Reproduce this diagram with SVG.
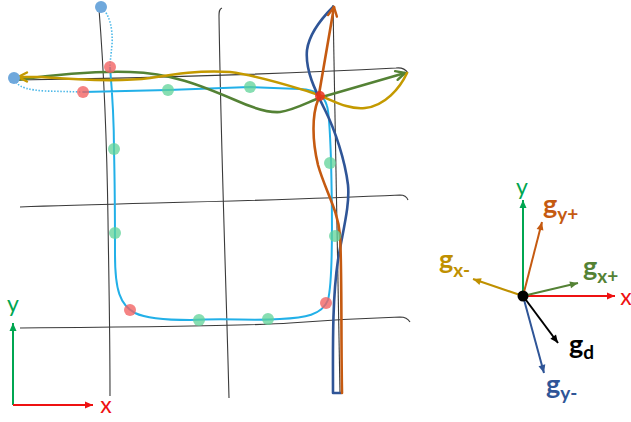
<svg xmlns="http://www.w3.org/2000/svg" width="631" height="422" viewBox="0 0 631 422">
<style>
.grid{fill:none;stroke:#3a3a3a;stroke-width:1.1}
.lb{fill:none;stroke:#22b0e8;stroke-width:2}
.dot{fill:none;stroke:#4cb8e8;stroke-width:1.6;stroke-dasharray:1.5 1.6}
.cv{fill:none;stroke-width:2.6;stroke-linecap:round;stroke-linejoin:round}
.gd{fill:#5fd398;fill-opacity:0.75}
.rd{fill:#f26464;fill-opacity:0.8}
.bd{fill:#6fa8dc}
.ax{fill:none;stroke-width:2}
.lbl{font-family:Lato,"Liberation Sans",sans-serif;font-size:23px}
.g{font-family:Lato,"Liberation Sans",sans-serif;font-weight:bold;font-size:27px}
.s{font-size:19px}
</style>
<defs>
<marker id="oOr" viewBox="-12 -7 14 14" markerWidth="14" markerHeight="14" refX="0" refY="0" orient="auto" markerUnits="userSpaceOnUse"><path d="M-9,-4.5 L0,0 L-9,4.5" fill="none" stroke="#c55a11" stroke-width="2.4" stroke-linecap="round" stroke-linejoin="round"/></marker>
<marker id="oGr" viewBox="-12 -7 14 14" markerWidth="14" markerHeight="14" refX="0" refY="0" orient="auto" markerUnits="userSpaceOnUse"><path d="M-9,-4.5 L0,0 L-9,4.5" fill="none" stroke="#548235" stroke-width="2.4" stroke-linecap="round" stroke-linejoin="round"/></marker>
<marker id="oGo" viewBox="-12 -7 14 14" markerWidth="14" markerHeight="14" refX="0" refY="0" orient="auto" markerUnits="userSpaceOnUse"><path d="M-9,-4.5 L0,0 L-9,4.5" fill="none" stroke="#c49a00" stroke-width="2.4" stroke-linecap="round" stroke-linejoin="round"/></marker>
<marker id="fG" viewBox="-10 -5 12 10" markerWidth="12" markerHeight="10" refX="0" refY="0" orient="auto" markerUnits="userSpaceOnUse"><path d="M0,0 L-8,-3.5 L-8,3.5 Z" fill="#00a651"/></marker>
<marker id="fR" viewBox="-10 -5 12 10" markerWidth="12" markerHeight="10" refX="0" refY="0" orient="auto" markerUnits="userSpaceOnUse"><path d="M0,0 L-8,-3.5 L-8,3.5 Z" fill="#ee1111"/></marker>
<marker id="fO" viewBox="-10 -5 12 10" markerWidth="12" markerHeight="10" refX="0" refY="0" orient="auto" markerUnits="userSpaceOnUse"><path d="M0,0 L-8,-3.5 L-8,3.5 Z" fill="#c55a11"/></marker>
<marker id="fDG" viewBox="-10 -5 12 10" markerWidth="12" markerHeight="10" refX="0" refY="0" orient="auto" markerUnits="userSpaceOnUse"><path d="M0,0 L-8,-3.5 L-8,3.5 Z" fill="#548235"/></marker>
<marker id="fY" viewBox="-10 -5 12 10" markerWidth="12" markerHeight="10" refX="0" refY="0" orient="auto" markerUnits="userSpaceOnUse"><path d="M0,0 L-8,-3.5 L-8,3.5 Z" fill="#bf9000"/></marker>
<marker id="fK" viewBox="-10 -5 12 10" markerWidth="12" markerHeight="10" refX="0" refY="0" orient="auto" markerUnits="userSpaceOnUse"><path d="M0,0 L-8,-3.5 L-8,3.5 Z" fill="#000"/></marker>
<marker id="fB" viewBox="-10 -5 12 10" markerWidth="12" markerHeight="10" refX="0" refY="0" orient="auto" markerUnits="userSpaceOnUse"><path d="M0,0 L-8,-3.5 L-8,3.5 Z" fill="#2f5597"/></marker>
</defs>
<rect width="631" height="422" fill="#fff"/>

<g id="grid">
<path class="grid" d="M99,9 C103,60 107,150 108,220 S110,330 110,396"/>
<path class="grid" d="M222,8 C219,9 219,12 219,16 C221,150 226,280 229,398"/>
<path class="grid" d="M333,5 L340,393"/>
<path class="grid" d="M17,80 C150,78 300,73 396,68 Q404,67 408,73"/>
<path class="grid" d="M20,207 C120,203 250,202 400,195 Q406,195 408,200"/>
<path class="grid" d="M20,328 C150,327 250,326 290,323 C330,320 370,318 400,317 Q407,317 410,322"/>
</g>

<g id="connectors">
<path class="dot" d="M102,8 C110,15 113,30 112,45 C111,55 110,62 110,67"/>
<path class="dot" d="M16,82 C20,88 30,90 45,91 L83,92"/>
<path class="lb" d="M110,67 C112,90 114,130 114,150 C115,190 115,230 115,255 C115,290 120,305 135,313 C145,318 160,320 190,320 C230,318 250,321 280,319 C305,318 322,315 328,300 C333,280 332,200 331,160 C330,130 329,112 327,106 C324,96 318,90 300,89 L250,87 L168,90 L83,92"/>
<path class="cv" stroke="#548235" marker-end="url(#oGr)" d="M17,80 C60,74 100,71 130,72 C170,73 200,85 235,100 C255,109 268,113 280,112 C295,110 310,101 322,97 L405,73"/>
<path class="cv" stroke="#c49a00" marker-end="url(#oGo)" d="M407,73 C400,88 385,106 365,108 C345,110 330,98 310,92 C290,86 260,76 230,72 C200,70 175,74 150,78 C120,82 80,80 40,77 L18,77"/>
<path class="cv" stroke="#2f5597" d="M341,393 L333,393 C333,350 332,300 338,260 C343,230 350,205 348,185 C345,160 335,130 325,110 C315,90 305,70 307,50 C309,35 320,20 333,7"/>
<path class="cv" stroke="#c55a11" marker-end="url(#oOr)" d="M342,393 C341,340 342,270 340,235 C338,210 325,190 318,165 C312,140 312,115 318,100 L334,7"/>
</g>

<g id="points">
<circle class="bd" cx="101" cy="7" r="6"/>
<circle class="bd" cx="14" cy="78" r="6"/>
<circle class="rd" cx="110" cy="67" r="6"/>
<circle class="rd" cx="83" cy="92" r="6"/>
<circle class="rd" cx="130" cy="310" r="6"/>
<circle class="rd" cx="326" cy="303" r="6"/>
<circle cx="320" cy="96" r="5" fill="#e8301c" fill-opacity="0.85"/>
<circle class="gd" cx="168" cy="90" r="6"/>
<circle class="gd" cx="250" cy="87" r="6"/>
<circle class="gd" cx="114" cy="149" r="6"/>
<circle class="gd" cx="115" cy="233" r="6"/>
<circle class="gd" cx="199" cy="320" r="6"/>
<circle class="gd" cx="268" cy="319" r="6"/>
<circle class="gd" cx="330" cy="163" r="6"/>
<circle class="gd" cx="335" cy="236" r="6"/>
</g>

<g id="axes-left">
<path class="ax" stroke="#00a651" marker-end="url(#fG)" d="M13,405 L13,323"/>
<path class="ax" stroke="#ee1111" marker-end="url(#fR)" d="M13,405 L93,405"/>
<text class="lbl" x="13" y="312" text-anchor="middle" fill="#00a651">y</text>
<text class="lbl" x="106" y="413" text-anchor="middle" fill="#ee1111">x</text>
</g>

<g id="vectors">
<g id="axis-y"><path class="ax" stroke="#00a651" marker-end="url(#fG)" d="M523,296 L523,200"/><text class="lbl" x="522" y="195" text-anchor="middle" fill="#00a651">y</text></g>
<g id="axis-x"><path class="ax" stroke="#ee1111" marker-end="url(#fR)" d="M523,296 L615,296"/><text class="lbl" x="626" y="305" text-anchor="middle" fill="#ee1111">x</text></g>
<g id="g-yp"><path class="ax" stroke="#c55a11" marker-end="url(#fO)" d="M523,296 L542,222"/><text class="g" x="543" y="214" fill="#c55a11">g<tspan class="s" dy="7">y+</tspan></text></g>
<g id="g-xp"><path class="ax" stroke="#548235" marker-end="url(#fDG)" d="M523,296 L578,283"/><text class="g" x="583" y="276" fill="#548235">g<tspan class="s" dy="7">x+</tspan></text></g>
<g id="g-xm"><path class="ax" stroke="#bf9000" marker-end="url(#fY)" d="M523,296 L473,279"/><text class="g" x="439" y="269" fill="#bf9000">g<tspan class="s" dy="8">x-</tspan></text></g>
<g id="g-d"><path class="ax" stroke="#000" marker-end="url(#fK)" d="M523,296 L558,343"/><text class="g" x="569" y="354" fill="#000">g<tspan class="s" dy="5">d</tspan></text></g>
<g id="g-ym"><path class="ax" stroke="#2f5597" marker-end="url(#fB)" d="M523,296 L544,373"/><text class="g" x="546" y="394" fill="#2f5597">g<tspan class="s" dy="6">y-</tspan></text></g>
<circle cx="523" cy="296" r="5.5" fill="#000"/>
</g>
</svg>
